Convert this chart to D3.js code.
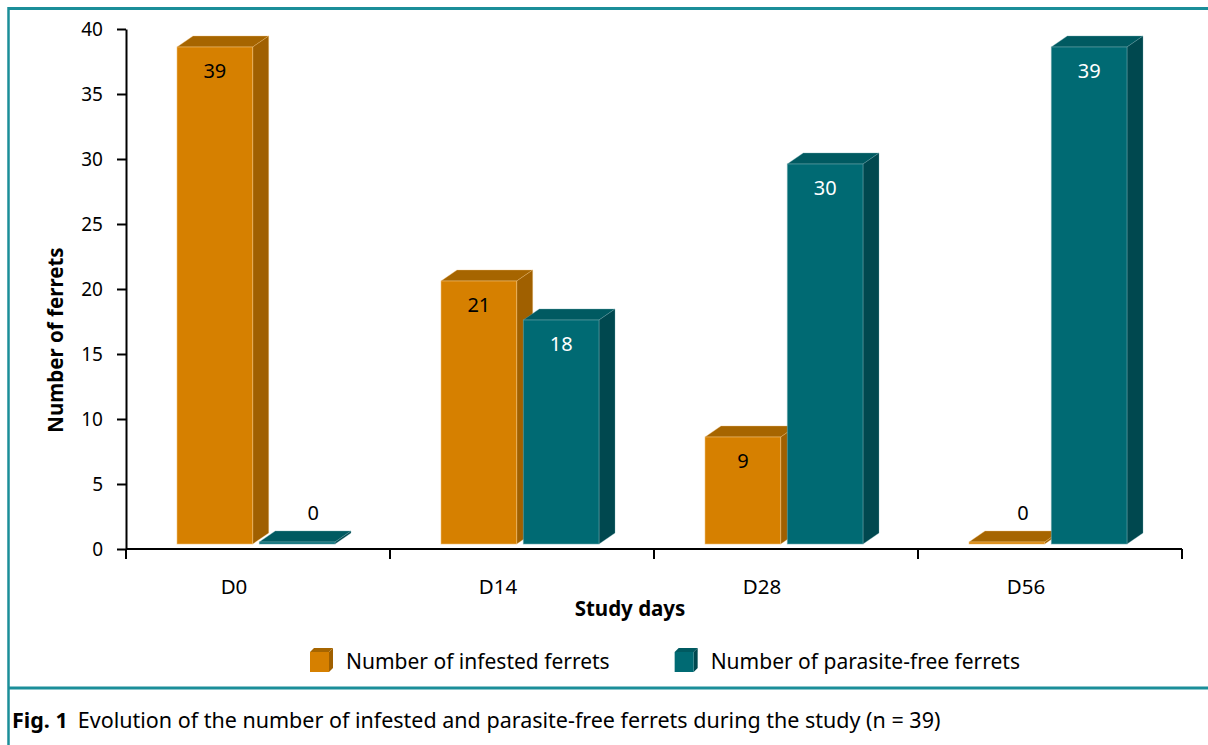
<!DOCTYPE html>
<html>
<head>
<meta charset="utf-8">
<script src="https://cdn.jsdelivr.net/npm/d3@7/dist/d3.min.js"></script>
<style>
  html, body { margin: 0; padding: 0; background: #fff; }
  svg { display: block; font-family: "Noto Sans", "Open Sans", sans-serif; }
</style>
</head>
<body>
<svg id="chart" width="1208" height="745"></svg>
<script>
// Study days and ferret counts per group
const categories = ["D0", "D14", "D28", "D56"];
const infested = [39, 21, 9, 0];
const parasiteFree = [0, 18, 30, 39];
const seriesNames = ["Number of infested ferrets", "Number of parasite-free ferrets"];
const yTickValues = [0, 5, 10, 15, 20, 25, 30, 35, 40];
const captionLead = "Fig. 1";
const captionText = "Evolution of the number of infested and parasite-free ferrets during the study (n = 39)";

(function draw() {
  const palette = [
    { front: "#d68000", top: "#a66500", side: "#a06000", edge: "#f3c27a", label: "#000" },
    { front: "#006a73", top: "#005a61", side: "#00484f", edge: "#6fa9ae", label: "#fff" }
  ];
  const frameColor = "#1b8e99";

  const svg = d3.select("#chart");
  const W = 1208, H = 745;

  // plot area
  const pLeft = 126, pRight = 1182, pTop = 29, pBottom = 549;
  const depthX = 16, depthY = 11;     // 3D extrusion of each column
  const floorGap = 5;                 // columns sit slightly above the axis line

  const x0 = d3.scaleBand().domain(categories).range([pLeft, pRight]).paddingInner(0).paddingOuter(0);
  const x1 = d3.scaleBand().domain([0, 1]).range([51, 209]).paddingInner(0.08);
  const y = d3.scaleLinear().domain([0, 40]).range([pBottom, pTop]);

  // frame lines
  svg.append("line").attr("x1", 8).attr("x2", W).attr("y1", 8.5).attr("y2", 8.5)
    .attr("stroke", frameColor).attr("stroke-width", 3);
  svg.append("line").attr("x1", 8.5).attr("x2", 8.5).attr("y1", 7).attr("y2", H)
    .attr("stroke", frameColor).attr("stroke-width", 2.5);
  svg.append("line").attr("x1", 8).attr("x2", W).attr("y1", 688).attr("y2", 688)
    .attr("stroke", frameColor).attr("stroke-width", 3);

  // columns
  const base = y(0) - floorGap;
  const barData = [];
  categories.forEach((c, i) => {
    barData.push({ cat: c, s: 0, v: infested[i] });
    barData.push({ cat: c, s: 1, v: parasiteFree[i] });
  });

  const bars = svg.append("g").selectAll("g.bar").data(barData).join("g").attr("class", "bar");
  bars.each(function (d) {
    const g = d3.select(this);
    const c = palette[d.s];
    const w = x1.bandwidth();
    const bx = x0(d.cat) + x1(d.s);
    const ty = Math.min(y(d.v) + floorGap, base - 2);
    // top face
    g.append("path")
      .attr("d", `M${bx},${ty}L${bx + depthX},${ty - depthY}L${bx + w + depthX},${ty - depthY}L${bx + w},${ty}Z`)
      .attr("fill", c.top).attr("stroke", c.edge).attr("stroke-width", 0.6).attr("stroke-opacity", 0.6);
    // side face
    g.append("path")
      .attr("d", `M${bx + w},${ty}L${bx + w + depthX},${ty - depthY}L${bx + w + depthX},${base - depthY}L${bx + w},${base}Z`)
      .attr("fill", c.side).attr("stroke", c.edge).attr("stroke-width", 0.6).attr("stroke-opacity", 0.5);
    // front face
    g.append("rect")
      .attr("x", bx).attr("y", ty).attr("width", w).attr("height", base - ty)
      .attr("fill", c.front).attr("stroke", c.edge).attr("stroke-width", 0.8).attr("stroke-opacity", 0.7);
    // value label
    const zero = d.v === 0;
    g.append("text")
      .attr("x", bx + w / 2 + (zero ? depthX : 0))
      .attr("y", zero ? ty - depthY - 11 : ty + 31)
      .attr("text-anchor", "middle")
      .attr("font-size", 20)
      .attr("fill", zero ? "#000" : c.label)
      .text(d.v);
  });

  // y axis
  const yAxis = d3.axisLeft(y).tickValues(yTickValues).tickSize(9).tickSizeOuter(0).tickPadding(14);
  const gy = svg.append("g").attr("transform", `translate(${pLeft},0)`).call(yAxis);
  gy.select(".domain").attr("stroke", "#000").attr("stroke-width", 2);
  gy.selectAll(".tick line").attr("stroke", "#000").attr("stroke-width", 2);
  gy.selectAll(".tick text").attr("font-size", 19).attr("fill", "#000")
    .attr("font-family", "'Noto Sans', sans-serif");

  // x axis: boundary ticks between study days
  const xBounds = categories.map(c => x0(c)).concat([pRight]);
  const gx = svg.append("g");
  gx.append("line").attr("x1", pLeft).attr("x2", pRight).attr("y1", pBottom).attr("y2", pBottom)
    .attr("stroke", "#000").attr("stroke-width", 2);
  gx.selectAll("line.tk").data(xBounds).join("line").attr("class", "tk")
    .attr("x1", d => d).attr("x2", d => d).attr("y1", pBottom).attr("y2", pBottom + 10)
    .attr("stroke", "#000").attr("stroke-width", 2);
  const labelShift = -24;
  gx.selectAll("text.cat").data(categories).join("text").attr("class", "cat")
    .attr("x", d => x0(d) + x0.bandwidth() / 2 + labelShift)
    .attr("y", 594)
    .attr("text-anchor", "middle").attr("font-size", 20.5).attr("fill", "#000")
    .text(d => d);

  // axis titles
  svg.append("text")
    .attr("x", (pLeft + pRight) / 2 + labelShift).attr("y", 616)
    .attr("text-anchor", "middle").attr("font-size", 20.5).attr("font-weight", "bold")
    .text("Study days");
  svg.append("text")
    .attr("transform", "translate(63,340) rotate(-90)")
    .attr("text-anchor", "middle").attr("font-size", 20.5).attr("font-weight", "bold")
    .text("Number of ferrets");

  // legend
  const legend = svg.append("g");
  let lx = 310;
  seriesNames.forEach((name, i) => {
    const c = palette[i];
    const g = legend.append("g").attr("transform", `translate(${lx},0)`);
    const bw = 19, bh = 20, by = 652, d = 4;
    g.append("path").attr("d", `M0,${by}L${d},${by - d}L${bw + d},${by - d}L${bw},${by}Z`).attr("fill", c.top);
    g.append("path").attr("d", `M${bw},${by}L${bw + d},${by - d}L${bw + d},${by + bh - d}L${bw},${by + bh}Z`).attr("fill", c.side);
    g.append("rect").attr("x", 0).attr("y", by).attr("width", bw).attr("height", bh).attr("fill", c.front);
    const t = g.append("text").attr("x", 36).attr("y", 669).attr("font-size", 21).attr("fill", "#000").text(name);
    lx += 36 + t.node().getComputedTextLength() + 65;
  });

  // caption
  const cap = svg.append("text").attr("x", 12).attr("y", 728).attr("font-size", 21.5).attr("fill", "#000");
  cap.append("tspan").attr("font-weight", "bold").text(captionLead);
  cap.append("tspan").attr("dx", 10).text(captionText);
})();
</script>
</body>
</html>
